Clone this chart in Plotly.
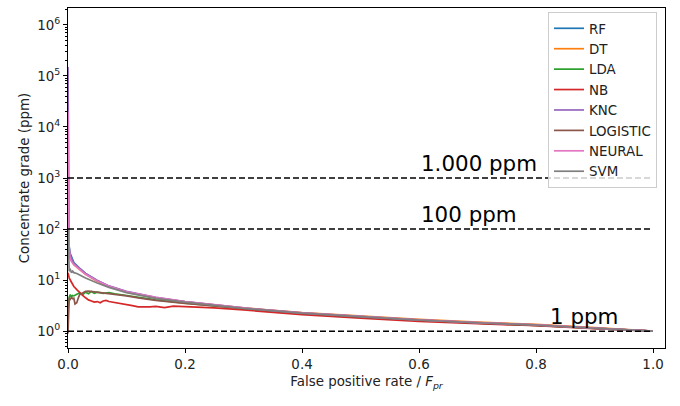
import plotly.graph_objects as go
import math

# ---------------- data ----------------
names = ["RF", "DT", "LDA", "NB", "KNC", "LOGISTIC", "NEURAL", "SVM"]
colors = ["#1f77b4", "#ff7f0e", "#2ca02c", "#d62728", "#9467bd", "#8c564b", "#e377c2", "#7f7f7f"]

x_rf = [0, 0.001, 0.003, 0.006, 0.01, 0.02, 0.03, 0.05, 0.07, 0.1, 0.15, 0.2, 0.25, 0.3, 0.4, 0.5, 0.6, 0.7, 0.8, 0.9, 1.0]
y_rf = [3000, 60, 35, 28, 22, 17, 13.5, 9.8, 7.6, 5.9, 4.5, 3.75, 3.2, 2.8, 2.25, 1.92, 1.65, 1.46, 1.33, 1.15, 1.0]

x_dt = [0, 0.001, 0.003, 0.006, 0.01, 0.02, 0.03, 0.05, 0.07, 0.1, 0.15, 0.2, 0.25, 0.3, 0.4, 0.5, 0.6, 0.7, 0.8, 0.9, 1.0]
y_dt = [800, 45, 30, 25, 20, 16, 13, 9.5, 7.5, 5.8, 4.5, 3.75, 3.25, 2.85, 2.3, 1.97, 1.7, 1.5, 1.36, 1.17, 1.0]

x_lda = [0, 0.002, 0.004, 0.006, 0.008, 0.01, 0.015, 0.02, 0.025, 0.03, 0.035, 0.04, 0.045, 0.05, 0.06, 0.07, 0.08, 0.1, 0.12, 0.15, 0.2, 0.25, 0.3, 0.4, 0.5, 0.6, 0.7, 0.8, 0.9, 1.0]
y_lda = [2.6, 4.6, 5.2, 4.7, 5.0, 4.9, 5.3, 5.6, 5.2, 5.8, 5.4, 6.0, 5.5, 5.8, 5.5, 5.7, 5.4, 5.0, 4.6, 4.1, 3.55, 3.1, 2.75, 2.22, 1.88, 1.62, 1.43, 1.3, 1.13, 1.0]

x_nb = [0, 0.002, 0.005, 0.01, 0.015, 0.02, 0.025, 0.03, 0.035, 0.04, 0.045, 0.05, 0.055, 0.06, 0.065, 0.07, 0.08, 0.09, 0.1, 0.11, 0.12, 0.13, 0.14, 0.15, 0.16, 0.165, 0.18, 0.2, 0.25, 0.3, 0.4, 0.5, 0.6, 0.7, 0.8, 0.9, 1.0]
y_nb = [14, 11, 9.5, 7.5, 6.5, 5.6, 5.0, 4.5, 4.1, 3.9, 3.7, 3.8, 3.6, 3.9, 4.0, 3.8, 3.6, 3.4, 3.25, 3.15, 3.0, 2.95, 3.0, 3.05, 2.9, 2.9, 3.1, 3.05, 2.85, 2.6, 2.1, 1.8, 1.56, 1.4, 1.28, 1.12, 1.0]

x_knc = [0, 0.0005, 0.001, 0.002, 0.004, 0.006, 0.01, 0.02, 0.03, 0.05, 0.07, 0.1, 0.15, 0.2, 0.25, 0.3, 0.4, 0.5, 0.6, 0.7, 0.8, 0.9, 1.0]
y_knc = [150000, 2000, 200, 45, 30, 26, 21, 17, 13.5, 9.8, 7.7, 6.0, 4.6, 3.8, 3.25, 2.85, 2.28, 1.94, 1.66, 1.47, 1.33, 1.15, 1.0]

x_log = [0, 0.001, 0.002, 0.004, 0.006, 0.008, 0.01, 0.012, 0.015, 0.018, 0.02, 0.025, 0.03, 0.035, 0.04, 0.05, 0.06, 0.07, 0.08, 0.1, 0.12, 0.15, 0.2, 0.25, 0.3, 0.4, 0.5, 0.6, 0.7, 0.8, 0.9, 1.0]
y_log = [0.9, 3.5, 4.5, 4.2, 4.6, 4.3, 4.4, 3.4, 3.6, 4.6, 5.2, 5.6, 6.0, 6.1, 6.0, 5.9, 5.6, 5.5, 5.3, 4.9, 4.5, 4.0, 3.5, 3.1, 2.75, 2.22, 1.88, 1.62, 1.43, 1.3, 1.13, 1.0]

x_nn = [0, 0.0005, 0.001, 0.002, 0.004, 0.006, 0.01, 0.02, 0.03, 0.05, 0.07, 0.1, 0.15, 0.2, 0.25, 0.3, 0.4, 0.5, 0.6, 0.7, 0.8, 0.9, 1.0]
y_nn = [20000, 800, 120, 38, 26, 23, 20, 16, 13, 9.6, 7.6, 5.9, 4.6, 3.8, 3.25, 2.85, 2.28, 1.94, 1.66, 1.47, 1.33, 1.15, 1.0]

x_svm = [0, 0.001, 0.002, 0.004, 0.006, 0.008, 0.01, 0.015, 0.02, 0.03, 0.05, 0.07, 0.1, 0.15, 0.2, 0.25, 0.3, 0.4, 0.5, 0.6, 0.7, 0.8, 0.9, 1.0]
y_svm = [100, 18, 15, 16, 14, 15, 14, 13.5, 12.5, 11, 8.8, 7.2, 5.7, 4.4, 3.7, 3.2, 2.8, 2.25, 1.92, 1.65, 1.46, 1.32, 1.14, 1.0]

xs = [x_rf, x_dt, x_lda, x_nb, x_knc, x_log, x_nn, x_svm]
ys = [y_rf, y_dt, y_lda, y_nb, y_knc, y_log, y_nn, y_svm]

thresholds = [1000, 100, 1]
threshold_labels = ["1.000 ppm", "100 ppm", "1 ppm"]
label_x = [0.6, 0.6, 0.82]

y_tick_vals = [1, 10, 100, 1000, 10000, 100000, 1000000]
y_tick_text = ["10<sup>%d</sup>" % i for i in range(7)]
x_tick_vals = [0.0, 0.2, 0.4, 0.6, 0.8, 1.0]

# ---------------- figure ----------------
FS = 13.4
fig = go.Figure()
for name, col, xv, yv in zip(names, colors, xs, ys):
    fig.add_trace(go.Scatter(x=xv, y=yv, mode="lines", name=name,
                             line=dict(color=col, width=1.7)))

for t, lab, lx in zip(thresholds, threshold_labels, label_x):
    fig.add_shape(type="line", x0=0, x1=1, y0=t, y1=t, xref="x", yref="y",
                  line=dict(color="black", width=1.5, dash="6px,3px"))
    fig.add_annotation(x=lx, y=math.log10(t), text=lab, showarrow=False,
                       xanchor="left", yanchor="bottom", yshift=0,
                       font=dict(size=21.4, color="black"))

minor_vals = [m * 10 ** k for k in range(-1, 7) for m in range(2, 10)]

fig.update_layout(
    width=680, height=406,
    margin=dict(l=68, r=15, t=8, b=58),
    paper_bgcolor="white", plot_bgcolor="white",
    font=dict(family="DejaVu Sans", size=FS, color="#222"),
    showlegend=True,
    legend=dict(x=0.9866, y=0.988, xanchor="right", yanchor="top",
                bgcolor="rgba(255,255,255,0.8)", bordercolor="#cccccc", borderwidth=1,
                font=dict(size=FS), itemwidth=30, tracegroupgap=0),
)
fig.update_xaxes(range=[0, 1.0205], tickvals=x_tick_vals, tickformat=".1f",
                 showgrid=False, zeroline=False, showline=True, mirror=True,
                 linecolor="black", linewidth=1, ticks="outside", ticklen=4,
                 tickcolor="black",
                 title=dict(text="False positive rate / <i>F<sub>pr</sub></i>", font=dict(size=FS), standoff=5))
fig.update_yaxes(type="log", range=[-0.33, 6.33], tickvals=y_tick_vals, ticktext=y_tick_text,
                 showgrid=False, zeroline=False, showline=True, mirror=True,
                 linecolor="black", linewidth=1, ticks="outside", ticklen=4,
                 tickcolor="black",
                 minor=dict(tickvals=minor_vals, ticks="outside", ticklen=2, tickcolor="black", showgrid=False),
                 title=dict(text="Concentrate grade (ppm)", font=dict(size=FS), standoff=4))

fig.write_html("out.html")
